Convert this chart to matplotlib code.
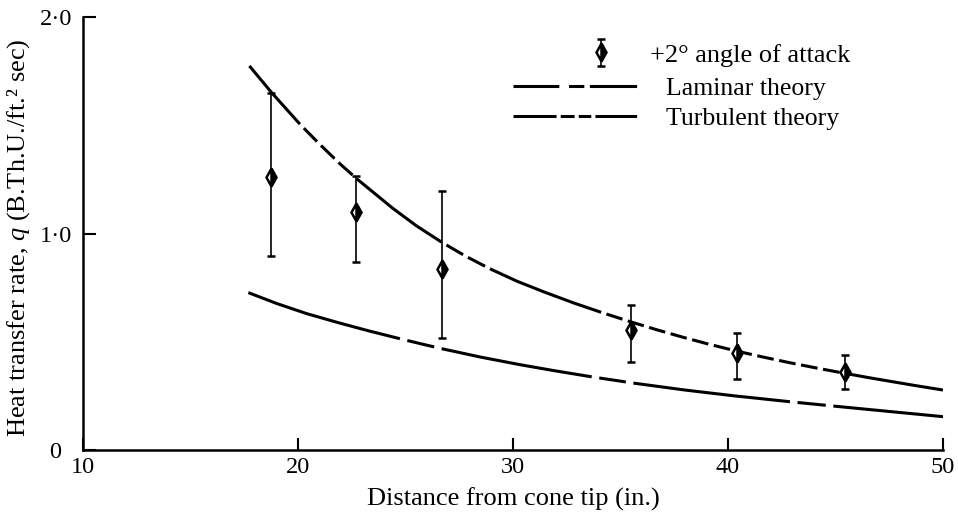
import numpy as np
import matplotlib
matplotlib.use("Agg")
import matplotlib.pyplot as plt
from matplotlib.lines import Line2D
from matplotlib.transforms import ScaledTranslation

plt.rcParams['font.family'] = ['Liberation Serif', 'DejaVu Serif']
plt.rcParams['mathtext.fontset'] = 'custom'
plt.rcParams['mathtext.it'] = 'Liberation Serif:italic'
plt.rcParams['mathtext.rm'] = 'Liberation Serif'
plt.rcParams['lines.scale_dashes'] = False

# ---- data ----
x_meas = [18.73, 22.7, 26.68, 35.47, 40.4, 45.44]
q_meas = [1.263, 1.098, 0.837, 0.553, 0.446, 0.361]
q_meas_hi = [1.651, 1.267, 1.198, 0.671, 0.541, 0.438]
q_meas_lo = [0.894, 0.869, 0.518, 0.406, 0.330, 0.284]

x_turb = [17.74, 18.78, 20.09, 21.0, 21.95, 22.73, 24.4, 25.5, 26.68, 27.8,
          28.93, 30.2, 31.5, 32.8, 34.1, 35.44, 36.7, 37.9, 39.1, 40.4,
          41.6, 42.88, 44.1, 45.44, 46.5, 47.5, 48.75, 50.0]
q_turb = [1.774, 1.650, 1.505, 1.413, 1.322, 1.253, 1.117, 1.036, 0.960, 0.895,
          0.837, 0.779, 0.728, 0.680, 0.636, 0.593, 0.555, 0.521, 0.489, 0.457,
          0.430, 0.403, 0.379, 0.354, 0.335, 0.318, 0.297, 0.277]

x_lam = [17.69, 19.0, 20.4, 21.95, 23.3, 24.74, 25.7, 26.68, 28.5, 30.33,
         32.0, 33.66, 35.6, 38.0, 40.3, 42.88, 44.9, 47.5, 50.0]
q_lam = [0.727, 0.677, 0.630, 0.586, 0.550, 0.514, 0.491, 0.468, 0.429, 0.394,
         0.365, 0.338, 0.309, 0.277, 0.250, 0.223, 0.203, 0.178, 0.154]

x_ticks = [10, 20, 30, 40, 50]
x_ticklabels = ['10', '20', '30', '40', '50']
y_ticks = [0, 1, 2]
y_ticklabels = ['0', '1·0', '2·0']

# ---- style: which stretches of each curve are broken (n dashes; 0 = solid) ----
turb_style = [(17.74, 20.09, 0), (20.09, 22.73, 3), (22.73, 26.68, 0),
              (26.68, 28.93, 2), (28.93, 34.1, 0), (34.1, 45.44, 11),
              (45.44, 50.0, 0)]
lam_style = [(17.69, 24.74, 0), (24.74, 26.68, 1), (26.68, 33.66, 0),
             (33.66, 35.6, 1), (35.6, 42.88, 0), (42.88, 44.9, 1),
             (44.9, 50.0, 0)]

W, H, DPI = 958, 514, 100
fig = plt.figure(figsize=(W / DPI, H / DPI), dpi=DPI)
ax = fig.add_axes([83 / W, (H - 450) / H, (943 - 83) / W, (450 - 17) / H])
ax.set_xlim(10, 50)
ax.set_ylim(0, 2)

LW = 2.2


def draw_curve(xs, ys, style, gap_pt):
    xs = np.asarray(xs)
    ys = np.asarray(ys)
    for x0, x1, n in style:
        m = (xs >= x0 - 1e-9) & (xs <= x1 + 1e-9)
        sx, sy = xs[m], ys[m]
        if n == 0:
            ax.plot(sx, sy, color='black', lw=LW, solid_capstyle='butt',
                    solid_joinstyle='round', zorder=2)
        else:
            pts = ax.transData.transform(np.column_stack([sx, sy]))
            L = np.sum(np.hypot(*np.diff(pts, axis=0).T)) * 72 / fig.dpi
            on = (L - (n + 1) * gap_pt) / n
            ax.plot(sx, sy, color='black', lw=LW, linestyle=(on, (on, gap_pt)),
                    dash_capstyle='butt', zorder=2)


draw_curve(x_turb, q_turb, turb_style, 4.0)
draw_curve(x_lam, q_lam, lam_style, 5.5)

yerr = [np.array(q_meas) - np.array(q_meas_lo), np.array(q_meas_hi) - np.array(q_meas)]
eb = ax.errorbar(x_meas, q_meas, yerr=yerr, fmt='d', color='black', ms=9,
                 mew=1.8, mfc='black', mfcalt='white', fillstyle='right',
                 elinewidth=1.2, capsize=2.8, capthick=1.2, zorder=3)

for s in ['top', 'right']:
    ax.spines[s].set_visible(False)
for s in ['left', 'bottom']:
    ax.spines[s].set_linewidth(1.8)

ax.set_xticks(x_ticks)
ax.set_xticklabels(x_ticklabels)
ax.set_yticks(y_ticks)
ax.set_yticklabels(y_ticklabels)
ax.tick_params(axis='both', direction='in', length=9, width=1.5,
               labelsize=17.5, colors='black')
ax.tick_params(axis='x', pad=5)
ax.tick_params(axis='y', pad=8)

for lbl in ax.get_yticklabels():
    if lbl.get_text() == '0':
        lbl.set_transform(lbl.get_transform() +
                          ScaledTranslation(-8 / 72, 0, fig.dpi_scale_trans))

ax.set_xlabel('Distance from cone tip (in.)', fontsize=19, labelpad=7)
fig.text(19 / W, 1 - 238 / H, 'Heat transfer rate, $q$ (B.Th.U./ft.² sec)',
         fontsize=19, rotation=90, ha='center', va='center')

# legends
leg1 = fig.legend([eb], ['+2° angle of attack'], loc='center left',
                  bbox_to_anchor=(588 / W, (H - 55) / H), frameon=False,
                  fontsize=19, handlelength=1.0, handletextpad=1.35,
                  borderpad=0, borderaxespad=0)
h_lam = Line2D([], [], color='black', lw=LW, linestyle=(0, (33, 7, 11, 4, 34, 300)))
h_turb = Line2D([], [], color='black', lw=LW, linestyle=(0, (31, 3, 10, 3, 9, 3, 30, 300)))
leg2 = fig.legend([h_lam, h_turb], ['Laminar theory', 'Turbulent theory'],
                  loc='center left', bbox_to_anchor=(513 / W, (H - 103.5) / H),
                  frameon=False, fontsize=18.5, handlelength=90 / 18.5,
                  handletextpad=1.1, borderpad=0, borderaxespad=0,
                  labelspacing=0.25)

fig.savefig('out.png', dpi=DPI)
